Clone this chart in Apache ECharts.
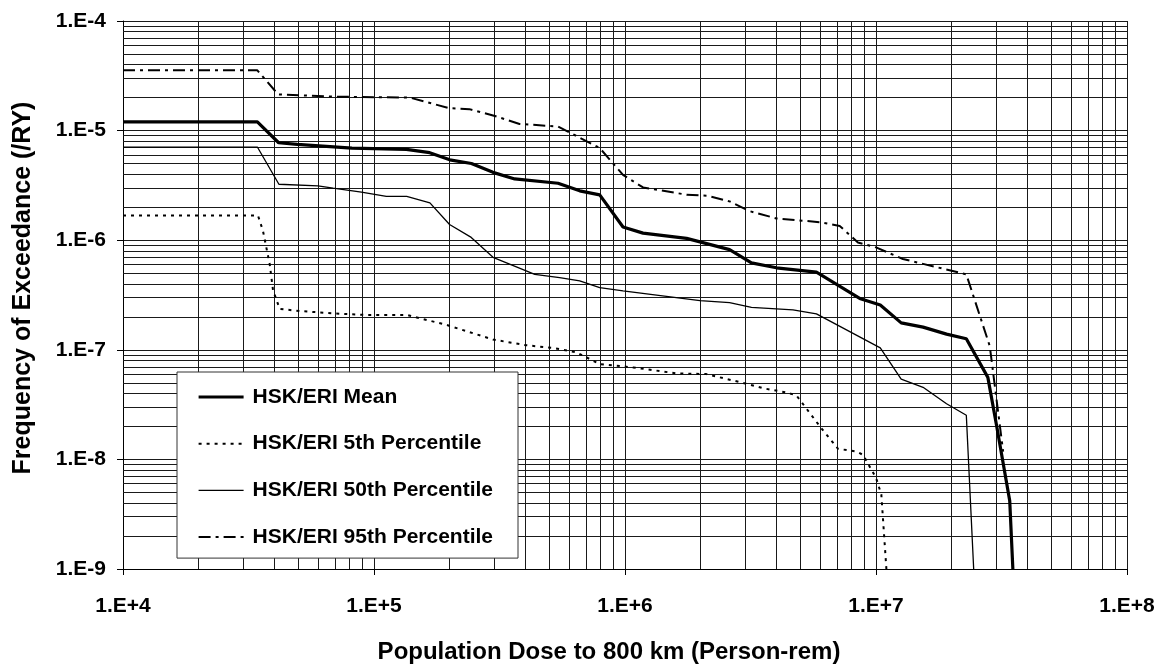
<!DOCTYPE html>
<html>
<head>
<meta charset="utf-8">
<script src="https://cdn.jsdelivr.net/npm/echarts@6/dist/echarts.min.js"></script>
<style>
html,body{margin:0;padding:0;background:#fff;}
#chart{width:1167px;height:669px;}
</style>
</head>
<body>
<div id="chart"></div>
<script>
// ---- Data ----
const seriesNames = ['HSK/ERI Mean', 'HSK/ERI 5th Percentile', 'HSK/ERI 50th Percentile', 'HSK/ERI 95th Percentile'];

const meanX = [1e4, 3.43e4, 4.17e4, 4.95e4, 8.17e4, 1.346e5, 1.667e5, 2.004e5, 2.444e5, 2.979e5, 3.636e5, 5.41e5, 6.6e5, 7.93e5, 9.82e5, 1.18e6, 1.76e6, 2.61e6, 3.19e6, 4.01e6, 5.79e6, 8.61e6, 1.04e7, 1.26e7, 1.54e7, 1.91e7, 2.29e7, 2.79e7, 3.02e7, 3.41e7, 3.51e7];
const meanY = [1.2e-5, 1.2e-5, 7.75e-6, 7.48e-6, 6.93e-6, 6.74e-6, 6.29e-6, 5.41e-6, 5.01e-6, 4.16e-6, 3.62e-6, 3.31e-6, 2.82e-6, 2.59e-6, 1.32e-6, 1.16e-6, 1.04e-6, 8.2e-7, 6.21e-7, 5.6e-7, 5.12e-7, 2.94e-7, 2.56e-7, 1.76e-7, 1.61e-7, 1.39e-7, 1.26e-7, 5.6e-8, 2.06e-8, 4.2e-9, 1e-9];

const p05X = [1e4, 3.45e4, 3.61e4, 3.84e4, 3.96e4, 4.21e4, 5.06e4, 6.87e4, 9.33e4, 1.35e5, 1.94e5, 2.98e5, 4.05e5, 5.16e5, 6.4e5, 7.93e5, 1.08e6, 1.6e6, 2.11e6, 3.05e6, 3.55e6, 4.46e6, 4.82e6, 5.05e6, 6.06e6, 7.06e6, 8.36e6, 8.88e6, 1.0e7, 1.05e7, 1.10e7];
const p05Y = [1.68e-6, 1.68e-6, 1.22e-6, 6.08e-7, 3.5e-7, 2.36e-7, 2.26e-7, 2.15e-7, 2.08e-7, 2.08e-7, 1.69e-7, 1.24e-7, 1.1e-7, 1.04e-7, 9.5e-8, 7.4e-8, 6.9e-8, 6.1e-8, 6.0e-8, 4.9e-8, 4.46e-8, 4.05e-8, 3.83e-8, 3.33e-8, 1.92e-8, 1.25e-8, 1.18e-8, 1.1e-8, 6.79e-9, 4.8e-9, 1e-9];

const p50X = [1e4, 3.43e4, 4.18e4, 5.98e4, 6.87e4, 8.91e4, 1.12e5, 1.35e5, 1.67e5, 2.0e5, 2.44e5, 2.98e5, 4.37e5, 5.49e5, 6.6e5, 7.93e5, 9.82e5, 1.99e6, 2.61e6, 3.19e6, 4.67e6, 5.79e6, 1.04e7, 1.26e7, 1.54e7, 1.91e7, 2.29e7, 2.45e7];
const p50Y = [7.08e-6, 7.08e-6, 3.24e-6, 3.13e-6, 2.98e-6, 2.75e-6, 2.51e-6, 2.51e-6, 2.19e-6, 1.39e-6, 1.06e-6, 6.98e-7, 4.88e-7, 4.55e-7, 4.25e-7, 3.70e-7, 3.45e-7, 2.81e-7, 2.69e-7, 2.44e-7, 2.31e-7, 2.13e-7, 1.04e-7, 5.41e-8, 4.55e-8, 3.22e-8, 2.53e-8, 1e-9];

const p95X = [1e4, 3.43e4, 4.15e4, 6.87e4, 1.39e5, 2.0e5, 2.4e5, 3.03e5, 3.8e5, 5.41e5, 7.93e5, 9.82e5, 1.18e6, 1.76e6, 2.14e6, 2.61e6, 3.14e6, 4.01e6, 5.97e6, 7.17e6, 8.47e6, 1.0e7, 1.28e7, 1.54e7, 2.29e7, 2.84e7, 3.21e7];
const p95Y = [3.55e-5, 3.55e-5, 2.14e-5, 2.04e-5, 2.0e-5, 1.6e-5, 1.57e-5, 1.36e-5, 1.15e-5, 1.09e-5, 6.94e-6, 3.94e-6, 3.03e-6, 2.6e-6, 2.54e-6, 2.26e-6, 1.84e-6, 1.58e-6, 1.46e-6, 1.35e-6, 9.53e-7, 8.6e-7, 6.74e-7, 6.08e-7, 4.88e-7, 1.08e-7, 1.18e-8];

// Tick labels
const xTickValues = [1e4, 1e5, 1e6, 1e7, 1e8];
const xTickLabels = ['1.E+4', '1.E+5', '1.E+6', '1.E+7', '1.E+8'];
const yTickValues = [1e-9, 1e-8, 1e-7, 1e-6, 1e-5, 1e-4];
const yTickLabels = ['1.E-9', '1.E-8', '1.E-7', '1.E-6', '1.E-5', '1.E-4'];
const minorMultipliers = [2, 3, 4, 5, 6, 7, 8, 9];

const xTitle = 'Population Dose to 800 km (Person-rem)';
const yTitle = 'Frequency of Exceedance (/RY)';

// ---- Build ----
function zip(xs, ys) { return xs.map((x, i) => [x, ys[i]]); }
function labelFor(values, labels, v) {
  for (let i = 0; i < values.length; i++) {
    if (Math.abs(Math.log10(v) - Math.log10(values[i])) < 1e-6) return labels[i];
  }
  return '';
}
const xMin = xTickValues[0], xMax = xTickValues[xTickValues.length - 1];
const yMin = yTickValues[0], yMax = yTickValues[yTickValues.length - 1];
const minorX = [];
for (let i = 0; i < xTickValues.length - 1; i++) minorMultipliers.forEach(m => minorX.push(xTickValues[i] * m));
const minorY = [];
for (let i = 0; i < yTickValues.length - 1; i++) minorMultipliers.forEach(m => minorY.push(yTickValues[i] * m));
const gridLines = minorX.map(v => [{coord: [v, yMin]}, {coord: [v, yMax]}])
  .concat(minorY.map(v => [{coord: [xMin, v]}, {coord: [xMax, v]}]));

const FONT = 'Liberation Sans, Arial, sans-serif';
const gridColor = '#1a1a1a';

const styles = [
  {color: '#000', width: 3.2, type: 'solid'},
  {color: '#000', width: 2, type: [3, 5]},
  {color: '#000', width: 1.3, type: 'solid'},
  {color: '#000', width: 2, type: [12, 5, 3, 5]}
];
const zs = [10, 6, 7, 6];
const dataSets = [zip(meanX, meanY), zip(p05X, p05Y), zip(p50X, p50Y), zip(p95X, p95Y)];

const chart = echarts.init(document.getElementById('chart'), null, {renderer: 'canvas'});
const option = {
  animation: false,
  backgroundColor: '#fff',
  grid: {left: 123, top: 21, right: 40, bottom: 93, containLabel: false},
  legend: {
    data: seriesNames.map((n, i) => ({name: n, lineStyle: Object.assign({}, styles[i])})),
    orient: 'vertical',
    left: 177,
    top: 372,
    z: 100,
    backgroundColor: '#fff',
    borderColor: '#333',
    borderWidth: 1,
    padding: [13, 25, 9, 20],
    itemWidth: 45,
    itemHeight: 24,
    itemGap: 22.7,
    itemStyle: {opacity: 0},
    textStyle: {fontFamily: FONT, fontWeight: 'bold', fontSize: 21, color: '#000', lineHeight: 24, padding: [0, 0, 0, 4]},
    selectedMode: false
  },
  xAxis: {
    type: 'log', logBase: 10, min: xMin, max: xMax,
    name: xTitle, nameLocation: 'middle', nameGap: 71,
    nameTextStyle: {fontFamily: FONT, fontWeight: 'bold', fontSize: 24, color: '#000', padding: [0, 32, 0, 0]},
    axisLine: {show: true, onZero: false, lineStyle: {color: '#000', width: 1}},
    axisTick: {show: true, length: 6, lineStyle: {color: '#000'}},
    axisLabel: {fontFamily: FONT, fontWeight: 'bold', fontSize: 21, color: '#000', margin: 27,
      formatter: v => labelFor(xTickValues, xTickLabels, v)},
    splitLine: {show: true, lineStyle: {color: gridColor, width: 1}},
    minorTick: {show: false}
  },
  yAxis: {
    type: 'log', logBase: 10, min: yMin, max: yMax,
    name: yTitle, nameLocation: 'middle', nameGap: 87,
    nameTextStyle: {fontFamily: FONT, fontWeight: 'bold', fontSize: 25, color: '#000', padding: [0, 0, 0, 14]},
    axisLine: {show: true, lineStyle: {color: '#000', width: 1}},
    axisTick: {show: true, length: 6, lineStyle: {color: '#000'}},
    axisLabel: {fontFamily: FONT, fontWeight: 'bold', fontSize: 21, color: '#000', margin: 17,
      formatter: v => labelFor(yTickValues, yTickLabels, v)},
    splitLine: {show: true, lineStyle: {color: gridColor, width: 1}}
  },
  series: [
    {
      name: '_grid', type: 'line', data: [], silent: true,
      markLine: {
        silent: true, symbol: ['none', 'none'], animation: false,
        label: {show: false},
        lineStyle: {color: gridColor, width: 1, type: 'solid'},
        emphasis: {disabled: true},
        data: gridLines
      },
      z: 1
    }
  ].concat(seriesNames.map((n, i) => ({
    name: n, type: 'line', data: dataSets[i], symbol: 'none', z: zs[i],
    lineStyle: styles[i], itemStyle: {color: '#000'}
  })))
};
chart.setOption(option);
</script>
</body>
</html>
